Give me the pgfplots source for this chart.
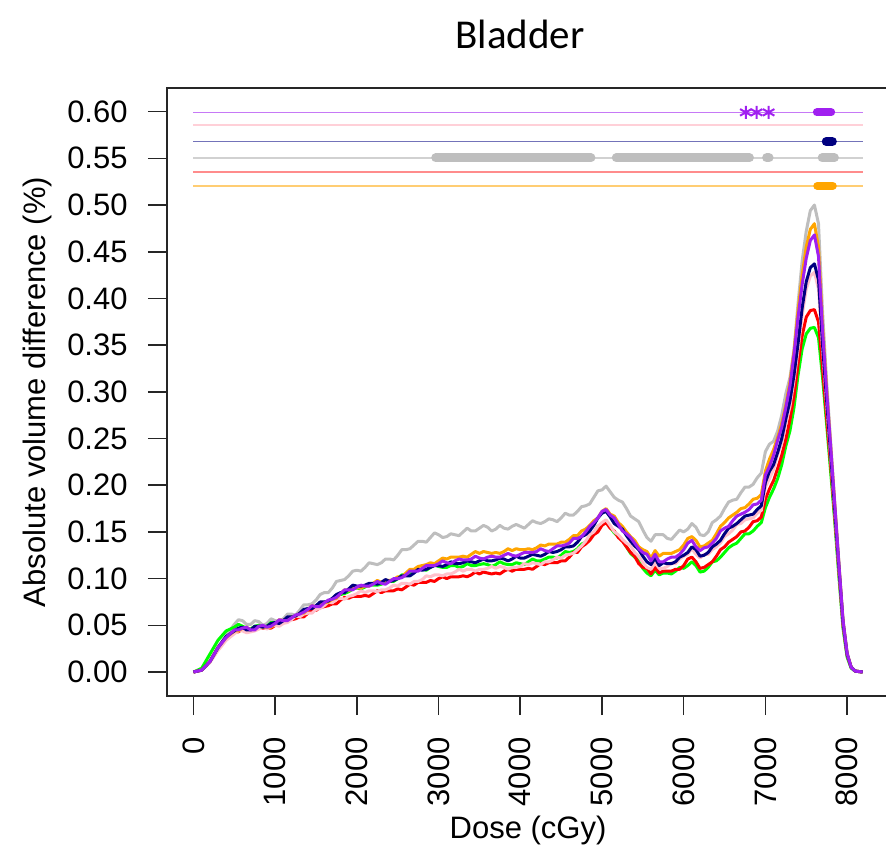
\documentclass[border=0pt]{standalone}
\usepackage{pgfplots}
\pgfplotsset{compat=1.18}
\usepackage{pgfplotstable}
\usepackage{fontspec}
\setmainfont{Liberation Sans}
\newfontfamily\carlito{Carlito}
\definecolor{rgreen}{HTML}{00FF00}
\definecolor{rred}{HTML}{FF0000}
\definecolor{rpink}{HTML}{FFC0CB}
\definecolor{rorange}{HTML}{FFA500}
\definecolor{rgray}{HTML}{BEBEBE}
\definecolor{rnavy}{HTML}{000080}
\definecolor{rpurple}{HTML}{A020F0}

\pgfplotstableread{
x     Gr    R     K     O     G     N     P
0     0     0     0     0     0     0     0
100   .004  .002  .002  .002  .002  .002  .002
200   .019  .011  .010  .011  .011  .011  .011
300   .034  .026  .023  .026  .027  .026  .026
400   .044  .037  .034  .037  .039  .038  .037
500   .048  .043  .041  .044  .051  .044  .045
550   .051  .043  .044  .044  .056  .047  .045
600   .049  .046  .044  .047  .055  .048  .047
650   .047  .047  .042  .048  .051  .045  .048
700   .046  .044  .043  .045  .051  .045  .045
750   .049  .047  .044  .048  .055  .049  .045
800   .050  .048  .046  .049  .054  .049  .049
850   .048  .047  .048  .048  .050  .048  .050
900   .049  .047  .046  .048  .052  .049  .048
950   .053  .047  .049  .048  .057  .052  .049
1000  .053  .050  .050  .052  .055  .053  .052
1050  .053  .054  .049  .056  .054  .052  .056
1100  .055  .053  .052  .055  .057  .055  .055
1150  .058  .056  .053  .058  .062  .059  .055
1200  .059  .056  .056  .059  .062  .059  .058
1250  .059  .057  .060  .060  .061  .060  .061
1300  .062  .059  .059  .063  .066  .063  .062
1350  .066  .059  .062  .063  .072  .067  .064
1400  .066  .063  .063  .067  .072  .068  .067
1450  .067  .067  .063  .071  .073  .068  .071
1500  .069  .066  .067  .070  .077  .071  .070
1550  .073  .069  .068  .073  .083  .075  .070
1600  .074  .070  .071  .074  .085  .075  .074
1650  .074  .071  .075  .075  .085  .076  .077
1700  .077  .073  .074  .078  .090  .079  .078
1750  .082  .073  .078  .079  .097  .083  .080
1800  .083  .077  .079  .084  .098  .085  .084
1850  .084  .080  .078  .088  .099  .085  .088
1900  .086  .079  .081  .087  .103  .089  .088
1950  .089  .081  .082  .090  .108  .093  .088
2000  .090  .081  .084  .090  .109  .092  .091
2050  .089  .081  .087  .090  .108  .092  .093
2100  .091  .082  .085  .092  .112  .093  .092
2150  .094  .081  .087  .092  .117  .095  .092
2200  .093  .084  .087  .095  .116  .095  .094
2250  .093  .087  .086  .098  .115  .094  .097
2300  .094  .085  .088  .096  .117  .096  .095
2350  .097  .087  .088  .098  .121  .099  .094
2400  .097  .087  .090  .098  .121  .097  .097
2450  .097  .087  .093  .099  .120  .098  .100
2500  .100  .089  .092  .102  .125  .100  .100
2550  .104  .088  .095  .102  .131  .103  .101
2600  .104  .091  .095  .106  .131  .103  .104
2650  .105  .094  .094  .110  .132  .103  .108
2700  .107  .093  .097  .110  .136  .106  .108
2750  .110  .096  .097  .113  .140  .110  .108
2800  .110  .096  .099  .114  .140  .109  .111
2850  .109  .096  .103  .115  .139  .110  .114
2900  .112  .098  .102  .117  .144  .112  .114
2950  .115  .097  .104  .116  .149  .114  .114
3000  .113  .100  .104  .119  .147  .114  .116
3050  .112  .102  .103  .122  .144  .113  .119
3100  .112  .100  .105  .121  .145  .115  .117
3150  .114  .102  .105  .123  .148  .118  .116
3200  .114  .102  .107  .123  .147  .116  .119
3250  .112  .102  .110  .123  .146  .116  .121
3300  .113  .103  .108  .124  .150  .117  .120
3350  .116  .102  .110  .123  .154  .119  .120
3400  .114  .104  .110  .126  .151  .118  .121
3450  .114  .107  .108  .129  .151  .117  .124
3500  .115  .105  .110  .127  .154  .119  .122
3550  .116  .107  .110  .129  .157  .121  .121
3600  .115  .106  .111  .128  .155  .119  .123
3650  .113  .105  .113  .127  .151  .119  .124
3700  .115  .106  .111  .128  .153  .120  .123
3750  .118  .105  .113  .127  .157  .122  .123
3800  .116  .108  .112  .129  .154  .121  .125
3850  .115  .110  .110  .132  .153  .119  .127
3900  .115  .108  .112  .130  .156  .121  .125
3950  .117  .110  .112  .132  .158  .124  .124
4000  .116  .110  .113  .131  .156  .122  .126
4050  .115  .110  .116  .131  .154  .122  .128
4100  .118  .111  .115  .132  .158  .124  .128
4150  .121  .110  .117  .131  .162  .126  .128
4200  .119  .113  .116  .133  .160  .125  .129
4250  .119  .116  .115  .136  .159  .124  .132
4300  .121  .115  .118  .135  .161  .126  .130
4350  .123  .117  .118  .137  .164  .129  .129
4400  .123  .117  .120  .137  .163  .128  .132
4450  .122  .117  .123  .137  .161  .129  .135
4500  .125  .119  .122  .139  .165  .131  .135
4550  .129  .119  .125  .139  .170  .134  .136
4600  .128  .123  .126  .142  .168  .134  .138
4650  .129  .128  .127  .146  .168  .135  .143
4700  .132  .128  .131  .146  .172  .139  .143
4750  .137  .134  .135  .151  .177  .145  .145
4800  .139  .137  .140  .153  .178  .147  .150
4850  .142  .141  .147  .157  .180  .151  .156
4900  .149  .147  .150  .162  .187  .157  .160
4950  .156  .150  .156  .165  .194  .165  .165
5000  .158  .157  .160  .172  .195  .170  .172
5050  .161  .160  .163  .175  .199  .172  .174
5100  .155  .154  .157  .169  .193  .166  .168
5150  .149  .151  .150  .167  .187  .159  .165
5200  .145  .144  .147  .160  .184  .156  .158
5250  .141  .140  .142  .156  .182  .153  .151
5300  .134  .134  .138  .150  .175  .146  .148
5350  .127  .128  .135  .145  .167  .140  .144
5400  .123  .124  .128  .141  .164  .135  .138
5450  .119  .116  .124  .134  .161  .131  .132
5500  .111  .112  .117  .131  .152  .124  .128
5550  .106  .111  .112  .129  .144  .118  .126
5600  .103  .105  .110  .122  .140  .115  .119
5650  .109  .112  .117  .130  .147  .122  .126
5700  .104  .106  .111  .124  .147  .114  .118
5750  .106  .108  .111  .127  .147  .117  .118
5800  .106  .108  .113  .127  .143  .116  .121
5850  .105  .108  .117  .127  .142  .116  .123
5900  .108  .110  .116  .129  .147  .118  .123
5950  .112  .110  .121  .131  .152  .123  .126
6000  .111  .114  .124  .136  .150  .125  .131
6050  .114  .121  .126  .143  .153  .128  .138
6100  .118  .123  .132  .145  .159  .134  .141
6150  .114  .118  .126  .141  .155  .131  .134
6200  .107  .111  .122  .134  .147  .124  .130
6250  .108  .112  .126  .135  .146  .125  .133
6300  .112  .115  .126  .138  .150  .128  .134
6350  .118  .118  .131  .141  .160  .134  .138
6400  .119  .124  .134  .148  .163  .137  .143
6450  .123  .131  .138  .156  .167  .141  .151
6500  .128  .134  .145  .160  .175  .148  .154
6550  .133  .139  .148  .165  .182  .154  .156
6600  .136  .142  .152  .168  .184  .156  .162
6650  .138  .145  .158  .171  .185  .159  .167
6700  .143  .150  .159  .175  .192  .163  .169
6750  .148  .151  .163  .176  .198  .167  .171
6800  .148  .155  .164  .180  .198  .168  .174
6850  .151  .161  .165  .185  .201  .169  .179
6900  .156  .162  .170  .186  .208  .174  .180
6950  .160  .166  .173  .190  .213  .178  .184
7000  .176  .185  .198  .215  .236  .203  .211
7050  .187  .196  .207  .228  .244  .215  .220
7100  .196  .205  .217  .238  .247  .222  .232
7150  .207  .218  .233  .251  .258  .235  .248
7200  .222  .232  .245  .266  .275  .250  .262
7250  .242  .249  .266  .286  .298  .271  .283
7300  .258  .270  .284  .310  .315  .290  .306
7350  .283  .295  .312  .343  .345  .318  .340
7400  .318  .330  .345  .387  .395  .352  .380
7450  .346  .360  .382  .425  .440  .390  .415
7500  .362  .380  .410  .455  .472  .418  .443
7550  .368  .387  .424  .474  .494  .433  .462
7600  .369  .388  .428  .480  .500  .437  .468
7650  .358  .375  .410  .455  .480  .420  .445
7700  .315  .325  .345  .370  .385  .350  .365
7750  .265  .272  .285  .302  .310  .290  .300
7800  .213  .220  .228  .240  .245  .232  .240
7850  .160  .165  .170  .178  .180  .172  .178
7900  .102  .107  .110  .115  .117  .112  .115
7950  .047  .050  .052  .055  .056  .053  .055
8000  .016  .018  .019  .020  .020  .019  .020
8050  .004  .005  .005  .005  .005  .005  .005
8100  .001  .001  .001  .001  .001  .001  .001
8190  0     0     0     0     0     0     0
}\dvh

\begin{document}
\begin{tikzpicture}
\begin{axis}[
  scale only axis, width=361pt, height=304pt,
  xmin=-324, xmax=8513, ymin=-0.0257, ymax=0.6253,
  axis line style={black!85, line width=0.8pt},
  tick style={black!85, line width=0.8pt},
  tick align=outside, major tick length=9.5pt,
  xtick pos=left, ytick pos=left,
  xtick={0,1000,2000,3000,4000,5000,6000,7000,8000},
  ytick={0,0.05,0.1,0.15,0.2,0.25,0.3,0.35,0.4,0.45,0.5,0.55,0.6},
  scaled ticks=false,
  /pgf/number format/assume math mode=true,
  /pgf/number format/1000 sep={},
  yticklabel style={/pgf/number format/fixed, /pgf/number format/fixed zerofill, /pgf/number format/precision=2, anchor=east, inner sep=0pt, xshift=-10pt},
  xticklabel style={yshift=-11pt, rotate=90, anchor=east, inner sep=0pt},
  tick label style={font=\fontsize{15.5}{18}\selectfont},
  label style={font=\fontsize{15.5}{18}\selectfont},
  title={Bladder},
  title style={font=\carlito\fontsize{20.5}{24}\selectfont, at={(axis description cs:0.48892,1.04506)}, anchor=base, yshift=0pt},
  xlabel={Dose (cGy)},
  xlabel style={at={(axis description cs:0.5,-0.23355)}, anchor=base},
  ylabel={Absolute volume difference (\%)},
  ylabel style={at={(axis description cs:-0.18006,0.5)}, anchor=center},
  every axis plot/.append style={line join=round},
]
% significance lines
\addplot[color=rpurple!60!white, line width=0.8pt] coordinates {(0,0.5992) (8190,0.5992)};
\addplot[color=rpink!75!white, line width=0.8pt] coordinates {(0,0.5855) (8190,0.5855)};
\addplot[color=rnavy!55!white, line width=0.8pt] coordinates {(0,0.568) (8190,0.568)};
\addplot[color=rgray!70!white, line width=0.8pt] coordinates {(0,0.5505) (8190,0.5505)};
\addplot[color=rred!45!white, line width=1pt] coordinates {(0,0.5355) (8190,0.5355)};
\addplot[color=rorange!55!white, line width=0.8pt] coordinates {(0,0.5205) (8190,0.5205)};
% significance markers
\addplot[only marks, mark=asterisk, mark size=3.3pt, color=rpurple, line width=1pt] coordinates {(6760,0.5992) (6893,0.5992) (7040,0.5992)};
\addplot[color=rpurple, line width=4pt, line cap=round] coordinates {(7630,0.5992) (7805,0.5992)};
\addplot[color=rnavy, line width=4.5pt, line cap=round] coordinates {(7745,0.568) (7820,0.568)};
\addplot[color=rgray, line width=4.5pt, line cap=round] coordinates {(2965,0.5505) (4865,0.5505)};
\addplot[color=rgray, line width=4.5pt, line cap=round] coordinates {(5175,0.5505) (6805,0.5505)};
\addplot[color=rgray, line width=4.5pt, line cap=round] coordinates {(7015,0.5505) (7045,0.5505)};
\addplot[color=rgray, line width=4.5pt, line cap=round] coordinates {(7695,0.5505) (7845,0.5505)};
\addplot[color=rorange, line width=4pt, line cap=round] coordinates {(7635,0.5205) (7825,0.5205)};
% curves
\addplot[color=rgray, line width=1.5pt] table[x=x, y=G] {\dvh};
\addplot[color=rgreen, line width=1.5pt] table[x=x, y=Gr] {\dvh};
\addplot[color=rred, line width=1.5pt] table[x=x, y=R] {\dvh};
\addplot[color=rpink, line width=1.5pt] table[x=x, y=K] {\dvh};
\addplot[color=rorange, line width=1.5pt] table[x=x, y=O] {\dvh};
\addplot[color=rnavy, line width=1.5pt] table[x=x, y=N] {\dvh};
\addplot[color=rpurple, line width=1.5pt] table[x=x, y=P] {\dvh};
\end{axis}
\pgfresetboundingbox
\path[use as bounding box] ([shift={(-83.5pt,-79pt)}]current axis.south west) rectangle ([shift={(-1.5pt,44pt)}]current axis.north east);
\end{tikzpicture}
\end{document}
